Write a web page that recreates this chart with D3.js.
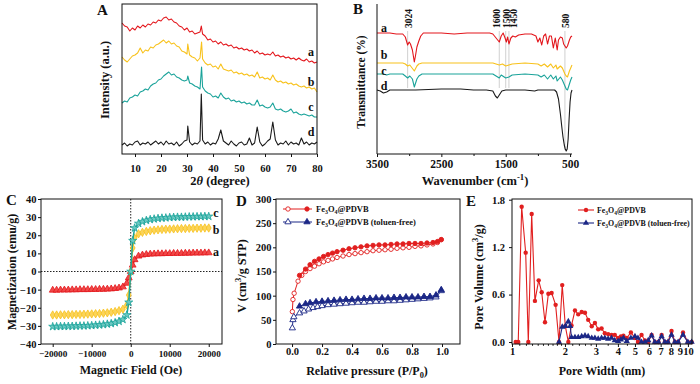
<!DOCTYPE html>
<html><head><meta charset="utf-8">
<script src="https://cdn.jsdelivr.net/npm/d3@7"></script>
<style>
body{margin:0;background:#fff}
svg{display:block;background:#fff}
text{font-family:"Liberation Serif","Times New Roman",serif;font-weight:bold;fill:#111}
</style>
</head><body>
<svg id="c" width="700" height="384"></svg>
<script>
// ---------- DATA ----------
// A: XRD, [2θ, intensity (a.u., offset)]
const xrdTicks = [10,20,30,40,50,60,70,80];
const xrdA = [[5,131],[6,128],[7,127],[8,123],[9,126],[10,124],[11,128],[12,126],[13,129],[14,127],[15,130],[16,129],[17,132],[18,131],[19,134],[20,133],[21,136],[22,137],[23,134],[24,135],[25,132],[26,131],[27,128],[28,127],[29,124],[30,126],[31,122],[32,123],[33,120],[34,121],[35,122],[35.5,128],[36,120],[37,118],[38,114],[39,115],[40,112],[41,113],[42,110],[43,112],[44,109],[45,110],[46,108],[47,109],[48,106],[49,107],[50,105],[51,106],[52,104],[53,105],[54,103],[55,104],[56,101],[57,103],[58,100],[59,101],[60,99],[61,100],[62,99],[63,102],[64,98],[65,99],[66,97],[67,98],[68,96],[69,97],[70,95],[71,96],[72,94],[73,96],[74,94],[75,93],[76,95],[77,92],[78,93],[79,91],[80,92]];
const xrdB = [[5,97],[6,94],[7,92],[8,95],[9,98],[10,99],[11,101],[12,106],[13,101],[14,104],[15,103],[16,107],[17,106],[18,109],[19,110],[20,112],[21,114],[22,111],[23,113],[24,110],[25,111],[26,108],[27,107],[28,103],[29,102],[30,100],[30.3,110],[31,99],[32,97],[33,96],[34,93],[35,96],[35.6,112],[36,95],[37,91],[38,89],[39,90],[40,87],[41,88],[42,85],[43,90],[44,85],[45,84],[46,83],[47,84],[48,81],[49,82],[50,80],[51,81],[52,79],[53,80],[54,78],[55,79],[56,77],[57,82],[58,76],[59,77],[60,75],[61,76],[62,74],[63,79],[64,74],[65,72],[66,73],[67,71],[68,72],[69,70],[70,71],[71,69],[72,70],[73,68],[74,67],[75,68],[76,66],[77,67],[78,65],[79,66],[80,62]];
const xrdC = [[5,51],[6,53],[7,52],[8,56],[9,57],[10,59],[11,58],[12,62],[13,63],[14,65],[15,64],[16,68],[17,70],[18,71],[19,74],[20,75],[21,78],[22,80],[23,82],[24,79],[25,80],[26,77],[27,76],[28,74],[29,73],[30,74],[30.3,78],[31,71],[32,70],[33,68],[34,67],[35,65],[35.6,87],[36,67],[37,63],[38,61],[39,60],[40,57],[41,58],[42,56],[43,61],[44,57],[45,55],[46,56],[47,53],[48,54],[49,52],[50,53],[51,51],[52,52],[53,50],[54,51],[55,49],[56,49],[57,54],[58,48],[59,49],[60,47],[61,46],[62,47],[63,51],[64,45],[65,44],[66,45],[67,43],[68,42],[69,43],[70,45],[71,41],[72,42],[73,40],[74,39],[75,40],[76,39],[77,38],[78,39],[79,37],[80,37]];
const xrdD = [[5,9],[6,11],[7,8],[8,10],[9,9],[10,12],[11,13],[12,9],[13,11],[14,10],[15,12],[16,9],[17,11],[18,13],[19,10],[20,12],[21,9],[22,13],[23,10],[24,11],[25,9],[26,12],[27,8],[28,10],[29,13],[30,14],[30.3,28],[31,12],[32,9],[33,11],[34,10],[35,13],[35.5,60],[36,14],[37,10],[38,12],[39,9],[40,11],[41,10],[42,15],[43,24],[44,13],[45,11],[46,9],[47,13],[48,10],[49,8],[50,11],[51,12],[52,9],[53,10],[54,16],[55,9],[56,11],[57,27],[58,12],[59,8],[60,10],[61,13],[62,15],[63,32],[64,14],[65,9],[66,11],[67,10],[68,13],[69,9],[70,12],[71,10],[72,11],[73,9],[74,16],[75,10],[76,12],[77,9],[78,11],[79,10],[80,12]];
const sampleLabels = ['a','b','c','d'];

// B: FTIR, [wavenumber, transmittance (a.u., offset)]
const ftirTicks = [3500,2500,1500,500];
const ftirMinor = [3000,2000,1000];
const ftirBands = [3024,1600,1500,1450,580];
const ftirA = [[3500,121],[3400,121],[3300,121],[3200,120],[3100,120],[3060,117],[3024,109],[3000,112],[2980,110],[2950,104],[2920,92],[2900,99],[2880,107],[2850,113],[2820,118],[2780,121],[2700,121],[2500,121],[2300,120],[2100,121],[1900,121],[1750,121],[1700,120],[1650,116],[1600,112],[1570,118],[1540,121],[1510,116],[1490,112],[1470,117],[1450,110],[1420,116],[1390,118],[1350,117],[1300,119],[1200,120],[1100,120],[1030,118],[1000,112],[970,116],[940,109],[910,118],[880,120],[850,110],[820,118],[790,118],[760,106],[730,116],[700,104],[680,114],[650,117],[620,116],[600,110],[580,108],[560,106],[540,108],[510,114],[490,117],[470,118]];
const ftirB = [[3500,91],[3300,91],[3100,91],[3060,90],[3024,88],[2990,89],[2920,83],[2880,88],[2850,90],[2800,91],[2500,91],[2000,91],[1700,91],[1600,89],[1550,90],[1500,88],[1450,89],[1400,90],[1200,91],[1000,90],[950,88],[900,90],[850,87],[800,90],[760,86],[720,89],[700,85],[650,88],[620,86],[600,83],[580,80],[560,78],[540,77],[510,83],[490,86],[470,89]];
const ftirC = [[3500,80],[3400,80],[3350,79],[3300,80],[3100,80],[3060,78],[3024,76],[2990,78],[2950,75],[2920,67],[2880,75],[2850,78],[2800,80],[2500,80],[2000,80],[1700,80],[1600,76],[1570,79],[1500,76],[1450,77],[1400,79],[1200,80],[1000,79],[950,77],[900,79],[850,75],[800,79],[760,75],[720,78],[700,73],[650,77],[620,74],[600,71],[580,68],[560,65],[540,64],[510,70],[490,74],[470,77]];
const ftirD = [[3500,64],[3450,63],[3400,61],[3350,62],[3300,64],[3200,64],[3000,64],[2900,64],[2500,65],[2200,65],[2000,64],[1800,64],[1700,63],[1660,58],[1630,56],[1600,59],[1560,63],[1500,64],[1400,64],[1200,64],[1050,63],[1000,64],[900,64],[800,64],[740,64],[710,62],[680,55],[650,40],[630,28],[610,17],[590,9],[575,5],[560,3],[545,5],[530,15],[515,35],[500,52],[485,61],[470,64]];

// C: VSM, field (Oe) and magnetization (emu/g)
const vsmTicksX = [-20000,-10000,0,10000,20000];
const vsmTicksY = [-40,-30,-20,-10,0,10,20,30,40];
const field = [-20000,-19000,-18000,-17000,-16000,-15000,-14000,-13000,-12000,-11000,-10000,-9000,-8000,-7000,-6000,-5000,-4000,-3000,-2000,-1000,-500,0,500,1000,2000,3000,4000,5000,6000,7000,8000,9000,10000,11000,12000,13000,14000,15000,16000,17000,18000,19000,20000];
const magA = [-10.3,-10.3,-10.2,-10.2,-10.2,-10.1,-10.1,-10,-10,-10,-9.9,-9.9,-9.8,-9.8,-9.7,-9.6,-9.4,-9.1,-8.5,-6.5,-3.5,0,3.5,6.5,8.5,9.1,9.4,9.6,9.7,9.8,9.8,9.9,9.9,10,10,10,10.1,10.1,10.2,10.2,10.2,10.3,10.3];
const magB = [-24,-24,-23.9,-23.9,-23.8,-23.8,-23.7,-23.7,-23.6,-23.5,-23.4,-23.3,-23.2,-23,-22.8,-22.5,-22.1,-21.6,-20.8,-18.5,-13,0,13,18.5,20.8,21.6,22.1,22.5,22.8,23,23.2,23.3,23.4,23.5,23.6,23.7,23.7,23.8,23.8,23.9,23.9,24,24];
const magC = [-30.4,-30.4,-30.3,-30.3,-30.2,-30.2,-30.1,-30,-30,-29.9,-29.8,-29.6,-29.5,-29.3,-29,-28.7,-28.2,-27.5,-26.5,-24,-17,0,17,24,26.5,27.5,28.2,28.7,29,29.3,29.5,29.6,29.8,29.9,30,30,30.1,30.2,30.2,30.3,30.3,30.4,30.4];

// D: N2 isotherms, [P/P0, V (cm3/g STP)]
const isoTicksX = [0,0.2,0.4,0.6,0.8,1.0];
const isoTicksY = [0,50,100,150,200,250,300];
const redAds = [[0.002,67],[0.006,92],[0.014,105],[0.04,130],[0.065,142],[0.09,150],[0.12,156],[0.15,161],[0.18,166],[0.21,170],[0.24,173],[0.27,176],[0.3,179],[0.34,182],[0.38,185],[0.42,187],[0.46,189],[0.5,191],[0.54,193],[0.58,194],[0.62,195],[0.66,196],[0.7,198],[0.74,199],[0.78,200],[0.82,202],[0.86,203],[0.9,205],[0.94,207],[0.97,210],[0.995,216]];
const redDes = [[0.995,216],[0.97,212],[0.94,210],[0.9,209],[0.86,208],[0.82,208],[0.78,208],[0.74,207],[0.7,207],[0.66,206],[0.62,205],[0.58,205],[0.54,204],[0.5,203],[0.46,201],[0.42,199],[0.38,197],[0.34,194],[0.3,191],[0.27,188],[0.24,185],[0.21,181],[0.18,176],[0.15,171],[0.12,164],[0.09,155],[0.05,142]];
const blueAds = [[0.002,33],[0.006,50],[0.012,56],[0.05,64],[0.08,68],[0.11,72],[0.14,75],[0.17,77],[0.2,79],[0.24,81],[0.28,82],[0.32,83],[0.36,84],[0.4,85],[0.44,86],[0.48,86],[0.52,87],[0.56,88],[0.6,88],[0.64,89],[0.68,89],[0.72,90],[0.76,91],[0.8,92],[0.84,93],[0.88,94],[0.92,95],[0.96,97],[0.995,110]];
const blueDes = [[0.995,112],[0.96,101],[0.92,98],[0.88,98],[0.84,97],[0.8,97],[0.76,97],[0.72,96],[0.68,96],[0.64,95],[0.6,95],[0.56,95],[0.52,94],[0.48,94],[0.44,93],[0.4,92],[0.36,92],[0.32,91],[0.28,90],[0.24,89],[0.2,88],[0.16,87],[0.12,85],[0.09,83],[0.05,78]];

// E: pore size distribution, [width (nm), pore volume (cm3/g)]
const psdTicksX = [1,2,3,4,5,6,7,8,9,10];
const psdMinor = [1.1,1.2,1.3,1.4,1.5,1.6,1.7,1.8,1.9,2.2,2.4,2.6,2.8,3.5,4.5];
const psdTicksY = [0,0.6,1.2,1.8];
const psdRed = [[1.05,0],[1.085,0],[1.135,1.71],[1.196,1.13],[1.238,0],[1.294,1.62],[1.35,0.52],[1.418,0.78],[1.475,0.63],[1.54,0.25],[1.61,0.61],[1.68,0.62],[1.77,0.47],[1.85,0.0],[1.93,0.72],[2.01,0.2],[2.09,0.0],[2.18,0.21],[2.28,0.4],[2.38,0.35],[2.49,0.38],[2.6,0.37],[2.71,0.28],[2.84,0.2],[2.96,0.24],[3.09,0.16],[3.23,0.17],[3.37,0.11],[3.52,0.1],[3.68,0.09],[3.84,0.09],[4.01,0.05],[4.16,0.07],[4.3,0.08],[4.49,0.05],[4.74,0.12],[5.0,0.05],[5.2,0.0],[5.45,0.09],[5.7,0.02],[5.95,0.0],[6.22,0.09],[6.49,0.0],[6.8,0.0],[7.09,0.09],[7.4,0.0],[7.7,0.0],[8.07,0.14],[8.43,0.0],[8.8,0.0],[9.38,0.12],[9.99,0.0],[10.5,0.0]];
const psdBlue = [[1.85,0],[1.93,0.19],[2.01,0.2],[2.09,0.26],[2.14,0.2],[2.18,0.06],[2.28,0.06],[2.38,0.06],[2.49,0.07],[2.6,0.08],[2.71,0.07],[2.84,0.05],[2.96,0.05],[3.09,0.04],[3.23,0.05],[3.37,0.05],[3.52,0.04],[3.68,0.05],[3.84,0.02],[4.01,0.01],[4.16,0.03],[4.3,0.05],[4.49,0.01],[4.74,0.05],[5.0,0.07],[5.2,0.05],[5.45,0.0],[5.7,0.0],[5.95,0.02],[6.22,0.08],[6.49,0.0],[6.8,0.0],[7.09,0.07],[7.4,0.0],[7.7,0.0],[8.07,0.09],[8.43,0.0],[8.8,0.0],[9.38,0.09],[9.99,0.0],[10.5,0.0]];

const legendNames = [[['Fe',0],['3',1],['O',0],['4',1],['@PDVB',0]],[['Fe',0],['3',1],['O',0],['4',1],['@PDVB (toluen-free)',0]]];

// ---------- STYLE ----------
const FONT = '"Liberation Serif","Times New Roman",serif';
const COL = {red:'#e3161c', yellow:'#f8c21c', teal:'#1aa39a', black:'#1a1a1a', dred:'#e11f1f', navy:'#1b2786'};
const xrdColors = [COL.red, COL.yellow, COL.teal, COL.black];
const svg = d3.select('#c');
const plain = d => (d<0 ? '−'+Math.abs(d) : String(d));

function styleAxis(g, size){
  g.attr('font-family', FONT).attr('font-size', size).attr('font-weight','bold');
  g.select('.domain').remove();
  g.selectAll('line').attr('stroke','#111').attr('stroke-width',1);
  g.selectAll('text').attr('fill','#111');
}
function frame(x0,y0,x1,y1){
  svg.append('rect').attr('x',x0).attr('y',y0).attr('width',x1-x0).attr('height',y1-y0)
    .attr('fill','none').attr('stroke','#111').attr('stroke-width',1);
}
function txt(x,y,s,size,opts={}){
  const t = svg.append('text').attr('x',x).attr('y',y).attr('font-size',size).text(s);
  if(opts.anchor) t.attr('text-anchor',opts.anchor);
  if(opts.rot) t.attr('transform',`rotate(-90,${x},${y})`);
  return t;
}
function richText(x,y,parts,size,opts={}){
  const t = svg.append('text').attr('x',x).attr('y',y).attr('font-size',size);
  if(opts.anchor) t.attr('text-anchor',opts.anchor);
  if(opts.rot) t.attr('transform',`rotate(-90,${x},${y})`);
  let prev = 0;
  parts.forEach(([s,k])=>{
    const shift = k===1 ? size*0.25 : (k===-1 ? -size*0.38 : 0);
    const ts = t.append('tspan').text(s).attr('dy', shift-prev);
    if(k!==0) ts.attr('font-size', size*0.7);
    prev = shift;
  });
  return t;
}

// ---------- PANEL A ----------
{
  const x = d3.scaleLinear().domain([5,80]).range([122,317]);
  const y = d3.scaleLinear().domain([0,150]).range([154,4]);
  const line = d3.line().x(d=>x(d[0])).y(d=>y(d[1]));
  [xrdA,xrdB,xrdC,xrdD].forEach((s,i)=>{
    svg.append('path').attr('d',line(s)).attr('fill','none').attr('stroke',xrdColors[i]).attr('stroke-width',1.1).attr('stroke-linejoin','round');
    const last = s[s.length-1];
    txt(311, y(last[1])-6, sampleLabels[i], 12, {anchor:'middle'});
  });
  frame(122,4,317,154);
  svg.append('g').attr('transform','translate(0,154)')
    .call(d3.axisBottom(x).tickValues(xrdTicks).tickSize(3).tickPadding(8).tickFormat(plain)).call(styleAxis,10.5);
  txt(97,15,'A',15);
  txt(109,80,'Intensity (a.u.)',12.5,{anchor:'middle',rot:true});
  const t = svg.append('text').attr('x',220).attr('y',185).attr('font-size',12.5).attr('text-anchor','middle');
  t.append('tspan').text('2');
  t.append('tspan').text('θ').attr('font-style','italic');
  t.append('tspan').text(' (degree)');
}

// ---------- PANEL B ----------
{
  const x = d3.scaleLinear().domain([3500,470]).range([377,572]);
  const y = d3.scaleLinear().domain([0,150]).range([154,4]);
  const line = d3.line().x(d=>x(d[0])).y(d=>y(d[1]));
  const labelNudge = [0.5,-3,0.5,4.5,0.5];
  ftirBands.forEach((w,i)=>{
    const y2 = i===ftirBands.length-1 ? 150 : 88;
    svg.append('line').attr('x1',x(w)).attr('x2',x(w)).attr('y1',31).attr('y2',y2)
      .attr('stroke','#c4c4c4').attr('stroke-width',0.8);
    txt(x(w)+3.5+labelNudge[i], 28, String(w), 9.5, {rot:true});
  });
  [ftirA,ftirB,ftirC,ftirD].forEach((s,i)=>{
    svg.append('path').attr('d',line(s)).attr('fill','none').attr('stroke',xrdColors[i]).attr('stroke-width',1.1).attr('stroke-linejoin','round');
  });
  const labY = [32,59,75,90];
  sampleLabels.forEach((l,i)=>txt(384,labY[i],l,12,{anchor:'middle'}));
  svg.append('line').attr('x1',377).attr('x2',377).attr('y1',4).attr('y2',154).attr('stroke','#111');
  svg.append('line').attr('x1',377).attr('x2',572).attr('y1',154).attr('y2',154).attr('stroke','#111');
  svg.append('g').attr('transform','translate(0,154)')
    .call(d3.axisBottom(x).tickValues(ftirTicks).tickSize(3).tickPadding(3).tickFormat(plain)).call(styleAxis,11.5);
  svg.append('g').attr('transform','translate(0,154)')
    .call(d3.axisBottom(x).tickValues(ftirMinor).tickSize(2).tickFormat('')).call(styleAxis,11.5);
  txt(353,14,'B',15);
  txt(365,82,'Transmittance (%)',11.5,{anchor:'middle',rot:true});
  richText(475,185,[['Wavenumber (cm',0],['-1',-1],[')',0]],12.5,{anchor:'middle'});
}

// ---------- PANEL C ----------
{
  const x = d3.scaleLinear().domain([-23000,23400]).range([41,222]);
  const y = d3.scaleLinear().domain([-40,40]).range([344,199]);
  svg.append('line').attr('x1',x(0)).attr('x2',x(0)).attr('y1',199).attr('y2',344)
    .attr('stroke','#222').attr('stroke-dasharray','1.5,1.5');
  svg.append('line').attr('x1',41).attr('x2',222).attr('y1',y(0)).attr('y2',y(0))
    .attr('stroke','#222').attr('stroke-dasharray','1.5,1.5');
  const series = [[magA,COL.red,d3.symbolTriangle,'#f04848'],[magB,COL.yellow,d3.symbolDiamond,'#fbd45a'],[magC,COL.teal,d3.symbolStar,'#6cc9c2']];
  const line = d3.line().x((d,i)=>x(field[i])).y(d=>y(d));
  series.forEach(([vals,col,sym,fill])=>{
    svg.append('path').attr('d',line(vals)).attr('fill','none').attr('stroke',col).attr('stroke-width',1.5);
    svg.append('g').selectAll('path').data(vals).join('path')
      .attr('transform',(d,i)=>`translate(${x(field[i])},${y(d)})`)
      .attr('d',d3.symbol().type(sym).size(20))
      .attr('fill',fill).attr('stroke',col).attr('stroke-width',0.8);
  });
  txt(216,217,'c',12,{anchor:'middle'});
  txt(216,234,'b',12,{anchor:'middle'});
  txt(216,256,'a',12,{anchor:'middle'});
  frame(41,199,222,344);
  svg.append('g').attr('transform','translate(0,344)')
    .call(d3.axisBottom(x).tickValues(vsmTicksX).tickSize(3).tickPadding(3).tickFormat(plain)).call(styleAxis,9.2);
  svg.append('g').attr('transform','translate(41,0)')
    .call(d3.axisLeft(y).tickValues(vsmTicksY).tickSize(3).tickPadding(1.5).tickFormat(plain)).call(styleAxis,10.5);
  txt(6,205,'C',15);
  txt(16,272,'Magnetization (emu/g)',12,{anchor:'middle',rot:true});
  txt(131,374,'Magnetic Field (Oe)',12,{anchor:'middle'});
}

// ---------- PANEL D ----------
{
  const x = d3.scaleLinear().domain([-0.107,1.12]).range([276,460]);
  const y = d3.scaleLinear().domain([0,300]).range([344,199]);
  const line = d3.line().x(d=>x(d[0])).y(d=>y(d[1]));
  const tri = d3.symbol().type(d3.symbolTriangle).size(17);
  const drawSet = (data,col,kind,open)=>{
    svg.append('path').attr('d',line(data)).attr('fill','none').attr('stroke',col).attr('stroke-width',1);
    const g = svg.append('g');
    if(kind==='c'){
      g.selectAll('circle').data(data).join('circle').attr('cx',d=>x(d[0])).attr('cy',d=>y(d[1])).attr('r',2.2)
        .attr('fill',open?'#fff':col).attr('stroke',col).attr('stroke-width',0.9);
    } else {
      g.selectAll('path').data(data).join('path').attr('transform',d=>`translate(${x(d[0])},${y(d[1])})`).attr('d',tri)
        .attr('fill',open?'#fff':col).attr('stroke',col).attr('stroke-width',0.9);
    }
  };
  drawSet(redAds,COL.dred,'c',true);
  drawSet(redDes,COL.dred,'c',false);
  drawSet(blueAds,COL.navy,'t',true);
  drawSet(blueDes,COL.navy,'t',false);
  [[COL.dred,'c',209],[COL.navy,'t',222]].forEach(([col,kind,ly],i)=>{
    svg.append('line').attr('x1',283).attr('x2',312).attr('y1',ly).attr('y2',ly).attr('stroke',col).attr('stroke-width',1);
    [[288,true],[307,false]].forEach(([lx,open])=>{
      if(kind==='c') svg.append('circle').attr('cx',lx).attr('cy',ly).attr('r',2.2).attr('fill',open?'#fff':col).attr('stroke',col).attr('stroke-width',0.9);
      else svg.append('path').attr('transform',`translate(${lx},${ly})`).attr('d',tri).attr('fill',open?'#fff':col).attr('stroke',col).attr('stroke-width',0.9);
    });
    richText(316,ly+3,legendNames[i],8.5);
  });
  frame(276,199,460,344);
  svg.append('g').attr('transform','translate(0,344)')
    .call(d3.axisBottom(x).tickValues(isoTicksX).tickSize(3).tickPadding(1).tickFormat(d3.format('.1f'))).call(styleAxis,10.5);
  svg.append('g').attr('transform','translate(276,0)')
    .call(d3.axisLeft(y).tickValues(isoTicksY).tickSize(3).tickPadding(1.5).tickFormat(plain)).call(styleAxis,10.5);
  txt(236,206,'D',15);
  richText(246,276,[['V (cm',0],['3',-1],['/g STP)',0]],12,{anchor:'middle',rot:true});
  richText(367,375,[['Relative pressure (P/P',0],['0',1],[')',0]],12,{anchor:'middle'});
}

// ---------- PANEL E ----------
{
  const x = d3.scaleLog().domain([1,10.55]).range([512,692]);
  const y = d3.scaleLinear().domain([0,1.8]).range([342,199.7]);
  const line = d3.line().x(d=>x(d[0])).y(d=>y(d[1]));
  const tri = d3.symbol().type(d3.symbolTriangle).size(17);
  svg.append('path').attr('d',line(psdRed)).attr('fill','none').attr('stroke',COL.dred).attr('stroke-width',1.1);
  svg.append('g').selectAll('circle').data(psdRed).join('circle').attr('cx',d=>x(d[0])).attr('cy',d=>y(d[1])).attr('r',2.2).attr('fill',COL.dred);
  svg.append('path').attr('d',line(psdBlue)).attr('fill','none').attr('stroke',COL.navy).attr('stroke-width',1.1);
  svg.append('g').selectAll('path').data(psdBlue).join('path').attr('transform',d=>`translate(${x(d[0])},${y(d[1])})`).attr('d',tri).attr('fill',COL.navy);
  [[COL.dred,'c',210],[COL.navy,'t',223]].forEach(([col,kind,ly],i)=>{
    svg.append('line').attr('x1',578).attr('x2',594).attr('y1',ly).attr('y2',ly).attr('stroke',col).attr('stroke-width',1.1);
    if(kind==='c') svg.append('circle').attr('cx',586).attr('cy',ly).attr('r',2.2).attr('fill',col);
    else svg.append('path').attr('transform',`translate(586,${ly})`).attr('d',tri).attr('fill',col);
    richText(597,ly+3,legendNames[i],7.9);
  });
  frame(512,199,692,344);
  svg.append('g').attr('transform','translate(0,344)')
    .call(d3.axisBottom(x).tickValues(psdTicksX).tickSize(3).tickPadding(1).tickFormat(d=>String(d))).call(styleAxis,10.5);
  svg.append('g').attr('transform','translate(0,344)')
    .call(d3.axisBottom(x).tickValues(psdMinor).tickSize(1.8).tickFormat('')).call(styleAxis,10.5);
  svg.append('g').attr('transform','translate(512,0)')
    .call(d3.axisLeft(y).tickValues(psdTicksY).tickSize(3).tickPadding(4).tickFormat(d3.format('.1f'))).call(styleAxis,10.5);
  txt(466,206,'E',15);
  richText(483,277,[['Pore Volume (cm',0],['3',-1],['/g)',0]],12,{anchor:'middle',rot:true});
  txt(602,375,'Pore Width (nm)',12,{anchor:'middle'});
}
</script>
</body></html>
